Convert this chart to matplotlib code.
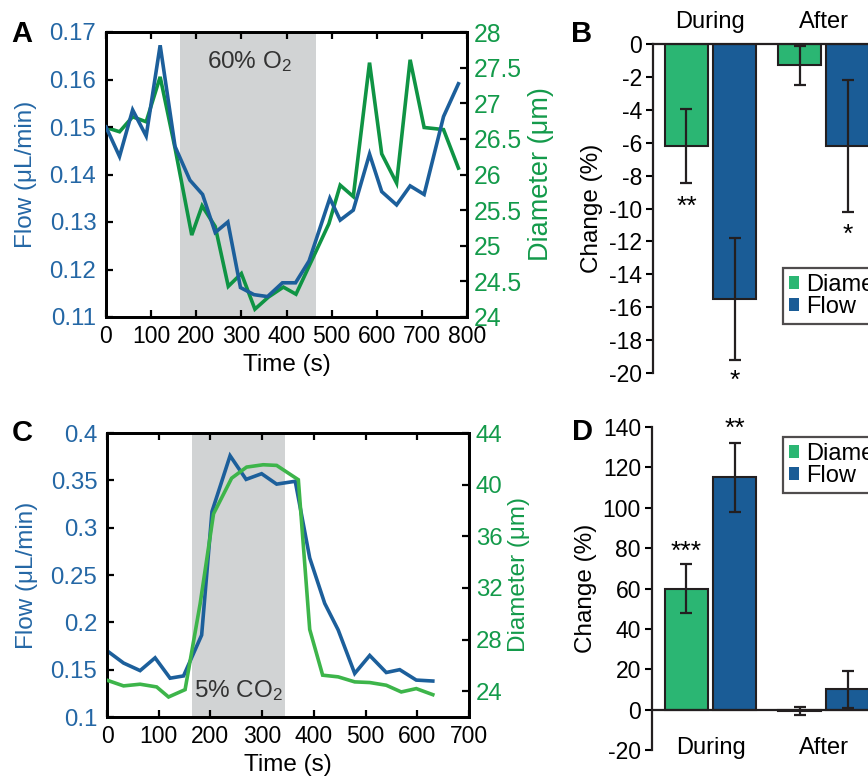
import matplotlib
matplotlib.use("Agg")
import matplotlib.pyplot as plt
from matplotlib.patches import Patch
from matplotlib.ticker import FuncFormatter
import numpy as np

plt.rcParams['font.family'] = ['Liberation Sans', 'DejaVu Sans']
plt.rcParams['mathtext.fontset'] = 'custom'
plt.rcParams['mathtext.rm'] = 'Liberation Sans'
plt.rcParams['mathtext.it'] = 'Liberation Sans'
plt.rcParams['axes.unicode_minus'] = False

# ---------------- data ----------------
# Panel A (60% O2)
tA_flow = [0, 30, 59, 89, 120, 153, 186, 214, 242, 270, 298, 328, 358, 391, 420, 450,
           496, 519, 548, 584, 611, 644, 674, 705, 748, 781]
flowA = [0.150, 0.1438, 0.1536, 0.1481, 0.1672, 0.1459, 0.1388, 0.1358, 0.1278, 0.1300,
         0.1162, 0.1147, 0.1143, 0.1172, 0.1172, 0.1218, 0.1350, 0.1304, 0.1325, 0.1443,
         0.1364, 0.1336, 0.1376, 0.1358, 0.1522, 0.1591]
tA_diam = [0, 30, 59, 89, 120, 153, 190, 213, 242, 271, 300, 330, 360, 393, 421,
           494, 519, 548, 584, 611, 644, 674, 705, 748, 781]
diamA = [26.66, 26.60, 26.81, 26.74, 27.37, 26.37, 25.15, 25.56, 25.27, 24.43, 24.61,
         24.11, 24.28, 24.42, 24.32, 25.31, 25.85, 25.69, 27.57, 26.29, 25.88, 27.61,
         26.66, 26.63, 26.09]
stimA = (165, 465)

# Panel C (5% CO2)
tC_flow = [0, 32, 64, 93, 122, 148, 183, 203, 238, 269, 299, 328, 364, 392, 421, 447,
           479, 508, 540, 566, 598, 630]
flowC = [0.170, 0.157, 0.149, 0.1625, 0.141, 0.1434, 0.1865, 0.317, 0.376, 0.351, 0.357,
         0.346, 0.349, 0.268, 0.220, 0.192, 0.146, 0.165, 0.147, 0.150, 0.139, 0.138]
tC_diam = [0, 32, 64, 96, 119, 151, 180, 206, 241, 270, 302, 328, 370, 392, 417, 447,
           479, 508, 540, 569, 598, 630]
diamC = [24.85, 24.41, 24.54, 24.33, 23.55, 24.12, 30.75, 37.74, 40.5, 41.36, 41.54,
         41.49, 40.38, 28.78, 25.24, 25.11, 24.72, 24.67, 24.46, 23.94, 24.2, 23.73]
stimC = (165, 345)

# Panels B and D (bar charts)
groups = ['During', 'After']
series = ['Diameter', 'Flow']
B_diam = [-6.2, -1.3]
B_diam_err = [2.25, 1.2]
B_flow = [-15.5, -6.2]
B_flow_err = [3.7, 4.0]
B_stars_diam = ['**', '']
B_stars_flow = ['*', '*']

D_diam = [60, -0.5]
D_diam_err = [12, 2]
D_flow = [115, 10]
D_flow_err = [17, 9]
D_stars_diam = ['***', '']
D_stars_flow = ['**', '']

# ---------------- style ----------------
BLUE = '#1c5f9b'
GREEN_A = '#0f9444'
GREEN_C = '#3db54a'
BAR_GREEN = '#2bb673'
BAR_BLUE = '#1a5c96'
SHADE = '#d1d3d4'
LBLUE = '#2467a5'
LGREEN = '#139a4a'
DARK = '#231f20'

W, H = 868, 777
fig = plt.figure(figsize=(W / 100, H / 100), dpi=100)


def fr(l, t, r, b):
    return [l / W, 1 - b / H, (r - l) / W, (b - t) / H]


TICK = 16.5
LAB = 17.5
gfmt = FuncFormatter(lambda v, p: ('%g' % round(v, 4)))


def line_panel(rect, t_flow, flow, t_diam, diam, stim, xlim, xticks,
               ylim, yticks, y2lim, y2ticks, green, blue_top, label, label_xy,
               r_tick, r_lab):
    ax = fig.add_axes(rect)
    ax2 = ax.twinx()
    if blue_top:
        ax2.axvspan(stim[0], stim[1], color=SHADE, zorder=0, lw=0)
        ax.set_zorder(ax2.get_zorder() + 1)
        ax.patch.set_visible(False)
    else:
        ax.axvspan(stim[0], stim[1], color=SHADE, zorder=0, lw=0)
    ax.plot(t_flow, flow, color=BLUE, lw=2.6, zorder=3, solid_joinstyle='miter')
    ax2.plot(t_diam, diam, color=green, lw=2.6, zorder=3, solid_joinstyle='miter')
    ax.set_xlim(*xlim)
    ax.set_xticks(xticks)
    ax.set_ylim(*ylim)
    ax.set_yticks(yticks)
    ax.yaxis.set_major_formatter(gfmt)
    ax2.set_ylim(*y2lim)
    ax2.set_yticks(y2ticks)
    ax2.yaxis.set_major_formatter(gfmt)
    for a in (ax, ax2):
        for s in a.spines.values():
            s.set_linewidth(2.0)
            s.set_color('black')
    ax.tick_params(axis='x', direction='in', length=5, width=1.6, top=True,
                   labelsize=TICK, pad=6)
    ax.tick_params(axis='y', direction='in', length=5, width=1.6, right=False,
                   labelsize=TICK + 0.8, labelcolor=LBLUE, pad=7)
    ax2.tick_params(axis='y', direction='in', length=5, width=1.6,
                    labelsize=r_tick, labelcolor=LGREEN, pad=5)
    ax.set_xlabel('Time (s)', fontsize=LAB, labelpad=4)
    ax.set_ylabel('Flow (\u03bcL/min)', fontsize=LAB, color=LBLUE, labelpad=9)
    ax2.set_ylabel('Diameter (\u03bcm)', fontsize=r_lab, color=LGREEN, labelpad=4)
    ax.text(label_xy[0], label_xy[1], label, transform=ax.transData,
            fontsize=LAB, color='#333333', ha='center', va='center', zorder=5)
    return ax, ax2


axA, axA2 = line_panel(fr(106, 32, 467, 317), tA_flow, flowA, tA_diam, diamA, stimA,
                       (0, 800), range(0, 801, 100), (0.11, 0.17),
                       np.arange(0.11, 0.1701, 0.01), (24, 28), np.arange(24, 28.01, 0.5),
                       GREEN_A, True, '60% O$_\\mathregular{2}$', (319, 0.1637),
                       17.8, 19.5)

axC, axC2 = line_panel(fr(107, 433, 469, 717), tC_flow, flowC, tC_diam, diamC, stimC,
                       (0, 700), range(0, 701, 100), (0.1, 0.4),
                       np.arange(0.1, 0.4001, 0.05), (22, 44), np.arange(24, 44.1, 4),
                       GREEN_C, False, '5% CO$_\\mathregular{2}$', (254, 0.128),
                       17.3, 17.5)


# ---------------- bar panels ----------------
OFF = 0.212
BW = 0.38


def bar_panel(rect, xl, diam, derr, flow, ferr, ylim, yticks, top_labels,
              stars_d, stars_f, star_y_d, star_y_f, legend_top):
    ax = fig.add_axes(rect)
    x = np.arange(len(groups))
    ekw = dict(ecolor=DARK, elinewidth=1.6, capsize=4, capthick=1.6)
    ax.bar(x - OFF, diam, BW, color=BAR_GREEN, edgecolor=DARK, lw=1.5,
           yerr=derr, error_kw=ekw, label=series[0], zorder=2)
    ax.bar(x + OFF, flow, BW, color=BAR_BLUE, edgecolor=DARK, lw=1.5,
           yerr=ferr, error_kw=ekw, label=series[1], zorder=2)
    ax.set_xlim(*xl)
    ax.set_ylim(*ylim)
    ax.set_yticks(yticks)
    ax.spines['right'].set_visible(False)
    ax.spines['bottom'].set_visible(False)
    ax.spines['top'].set_visible(top_labels)
    for s in ax.spines.values():
        s.set_linewidth(1.6)
        s.set_color(DARK)
    if not top_labels:
        ax.axhline(0, color=DARK, lw=1.6, zorder=3)
    ax.tick_params(axis='y', direction='out', length=5, width=1.5, labelsize=TICK,
                   pad=3)
    ax.tick_params(axis='x', length=0, bottom=False, top=False,
                   labelbottom=False, labeltop=False)
    ax.set_ylabel('Change (%)', fontsize=LAB, labelpad=4)
    ty = 1.067 if top_labels else 0.006
    for i, g in enumerate(groups):
        ax.text(i, ty, g, transform=ax.get_xaxis_transform(), fontsize=LAB - 0.5,
                ha='center', va='center')
    for i in range(len(groups)):
        if stars_d[i]:
            ax.text(i - OFF, star_y_d[i], stars_d[i], fontsize=19, ha='center',
                    va='center')
        if stars_f[i]:
            ax.text(i + OFF, star_y_f[i], stars_f[i], fontsize=19, ha='center',
                    va='center')
    handles = [Patch(facecolor=BAR_GREEN, edgecolor='none', label=series[0]),
               Patch(facecolor=BAR_BLUE, edgecolor='none', label=series[1])]
    leg = ax.legend(handles=handles, loc='upper left',
                    bbox_to_anchor=(783 / W, 1 - legend_top / H),
                    bbox_transform=fig.transFigure, fontsize=17, frameon=True,
                    fancybox=False, edgecolor=DARK, handlelength=0.42,
                    handleheight=0.42, handletextpad=0.32, labelspacing=0.0,
                    borderpad=0.25, borderaxespad=0)
    leg.get_frame().set_linewidth(1.6)
    return ax


axB = bar_panel(fr(653, 44, 960, 373), (-0.5077, 2.203), B_diam, B_diam_err,
                B_flow, B_flow_err, (-20, 0), np.arange(-20, 0.1, 2), True,
                B_stars_diam, B_stars_flow, [-9.9, 0], [-20.5, -11.6], 268)

axD = bar_panel(fr(652, 427, 960, 750), (-0.5166, 2.203), D_diam, D_diam_err,
                D_flow, D_flow_err, (-20, 140), np.arange(-20, 140.1, 20), False,
                D_stars_diam, D_stars_flow, [78, 0], [139, 0], 437)

# panel letters
for lab, (px, py) in zip('ABCD', [(22, 34), (582, 34), (22, 433), (582, 432)]):
    fig.text(px / W, 1 - py / H, lab, fontsize=21, fontweight='bold',
             ha='center', va='center')

fig.savefig('out.png', dpi=100)
